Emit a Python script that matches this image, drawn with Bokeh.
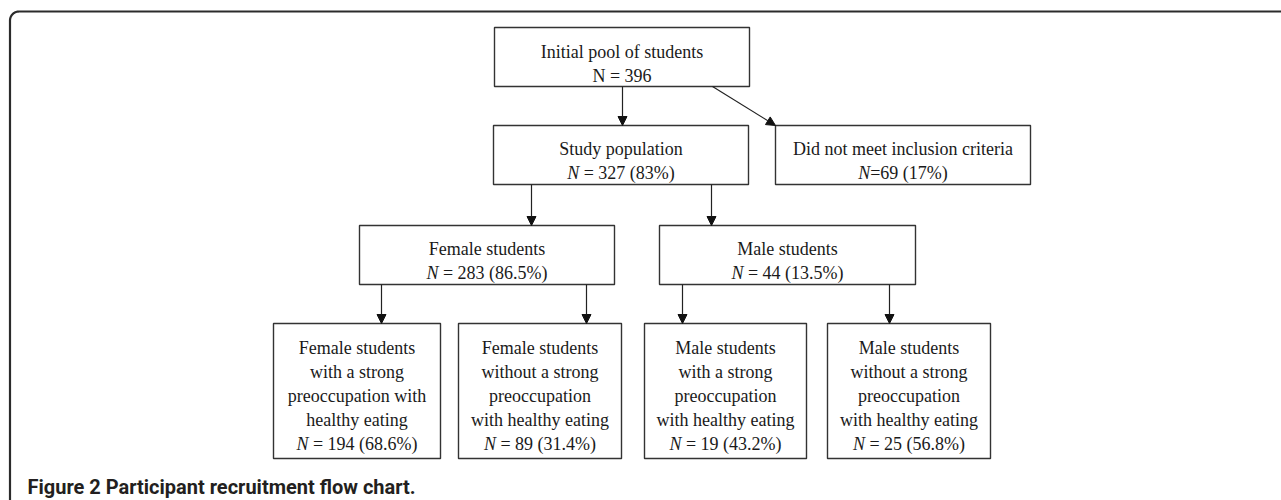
from bokeh.plotting import figure
from bokeh.models import Arrow, NormalHead
from bokeh.core.properties import value
from bokeh.embed import file_html
from bokeh.resources import INLINE
import numpy as np

# ---------------- data ----------------
node_labels = [
    ["Initial pool of students"],
    ["Study population"],
    ["Did not meet inclusion criteria"],
    ["Female students"],
    ["Male students"],
    ["Female students", "with a strong", "preoccupation with", "healthy eating"],
    ["Female students", "without a strong", "preoccupation", "with healthy eating"],
    ["Male students", "with a strong", "preoccupation", "with healthy eating"],
    ["Male students", "without a strong", "preoccupation", "with healthy eating"],
]
node_n = [396, 327, 69, 283, 44, 194, 89, 19, 25]
node_pct = ["", "83%", "17%", "86.5%", "13.5%", "68.6%", "31.4%", "43.2%", "56.8%"]
n_italic = [False, True, True, True, True, True, True, True, True]
n_spaced = [True, True, False, True, True, True, True, True, True]
edges = [(0, 1), (0, 2), (1, 3), (1, 4), (3, 5), (3, 6), (4, 7), (4, 8)]
caption = "Figure 2 Participant recruitment flow chart."

# ---------------- layout (screen pixels) ----------------
OFF = 0
W, H = 1281, 500
box_l = [494, 493, 775, 359, 659, 273, 458, 644, 827]
box_r = [749, 748, 1030, 614, 915, 440, 621, 806, 990]
box_t = [27, 125, 125, 225, 225, 323, 323, 323, 323]
box_b = [86, 184, 184, 284, 284, 458, 458, 458, 458]
first_base = [51, 148, 148, 248, 248, 347, 347, 347, 347]
line_gap = 24
edge_x0 = [622, 712, 531, 711, 381, 586, 682, 889]
edge_x1 = [622, 775, 531, 711, 381, 586, 682, 889]

FS = 18
SERIF = "Liberation Serif"
# Times metrics (em units) for centring mixed italic/roman lines
cw = {d: 0.5 for d in "0123456789"}
cw.update({" ": 0.25, "=": 0.564, "(": 0.333, ")": 0.333, "%": 0.833, ".": 0.25})
def width(s):
    return sum(cw.get(c, 0.5) for c in s) * FS

p = figure(width=W, height=H, x_range=(0, W), y_range=(H, 0),
           x_axis_location=None, y_axis_location=None,
           toolbar_location=None, output_backend="svg", min_border=0)
p.grid.visible = False
p.outline_line_color = None
p.background_fill_color = "white"
p.border_fill_color = "white"

# outer frame (rounded top-left corner)
r = 9
cx, cy = 9.5 + r - OFF, 11 + r - OFF
ang = np.linspace(np.pi, 1.5 * np.pi, 20)
fx = [9.5 - OFF] + list(cx + r * np.cos(ang)) + [W + 10]
fy = [H + 10] + list(cy + r * np.sin(ang)) + [11 - OFF]
p.line(fx, fy, line_color="#2b2b2b", line_width=2.2)

# boxes
p.quad(left=[v - OFF for v in box_l], right=[v - OFF for v in box_r],
       top=[v - OFF for v in box_t], bottom=[v - OFF for v in box_b],
       fill_color="white", line_color="#333333", line_width=1.4)

# arrows
for (a, b), x0, x1 in zip(edges, edge_x0, edge_x1):
    p.add_layout(Arrow(x_start=x0 - OFF, y_start=box_b[a] - OFF,
                       x_end=x1 - OFF, y_end=box_t[b] - OFF,
                       line_color="#222222", line_width=1.2,
                       end=NormalHead(size=9, fill_color="#111111", line_color="#111111", line_width=1)))

# texts
tx, ty, tt = [], [], []
ix, iy, it = [], [], []
rx, ry, rt = [], [], []
for i, lines in enumerate(node_labels):
    c = (box_l[i] + box_r[i]) / 2 - OFF
    for k, s in enumerate(lines):
        tx.append(c); ty.append(first_base[i] + k * line_gap - OFF); tt.append(s)
    yb = first_base[i] + len(lines) * line_gap - OFF
    rest = (" = " if n_spaced[i] else "=") + str(node_n[i]) + (f" ({node_pct[i]})" if node_pct[i] else "")
    nw = (0.667 if n_italic[i] else 0.722) * FS
    total = nw + width(rest)
    x0 = c - total / 2
    if n_italic[i]:
        ix.append(x0); iy.append(yb); it.append("N")
    else:
        rx.append(x0); ry.append(yb); rt.append("N")
    lead = len(rest) - len(rest.lstrip(" "))
    rx.append(x0 + nw + width(" " * lead)); ry.append(yb); rt.append(rest.lstrip(" "))

common = dict(text_font=value(SERIF), text_font_size=f"{FS}px", text_color="#1a1a1a",
              text_baseline="alphabetic")
p.text(x=tx, y=ty, text=tt, text_align="center", **common)
p.text(x=rx, y=ry, text=rt, text_align="left", **common)
p.text(x=ix, y=iy, text=it, text_align="left", text_font_style="italic", **common)

# caption
p.text(x=[27 - OFF], y=[486 - OFF], text=[caption], text_align="left", text_baseline="alphabetic",
       text_font=value("Roboto"), text_font_style="bold",
       text_font_size="20px", text_color="#231f20")

open("out.html", "w").write(file_html(p, INLINE))
